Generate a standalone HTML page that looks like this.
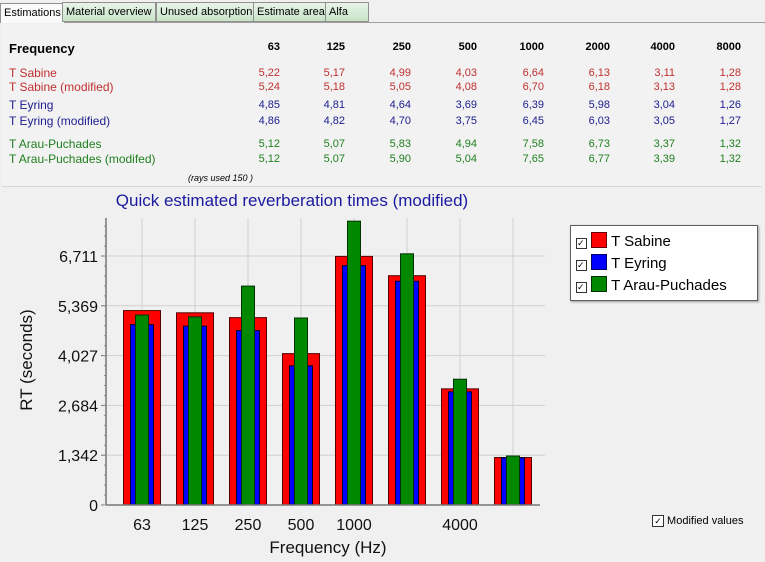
<!DOCTYPE html>
<html><head><meta charset="utf-8"><style>
body{margin:0;width:765px;height:562px;background:#f0f0f0;font-family:"Liberation Sans",sans-serif;position:relative;overflow:hidden}
.tabs{position:absolute;left:0;top:0;width:765px;height:22px;background:#f0f0f0;border-bottom:1px solid #a0a0a0}
.tab{position:absolute;top:2px;height:18px;font-size:11px;line-height:18px;padding:0 3px;border:1px solid #909090;background:linear-gradient(#e8f4e8,#c8e4c8)}
.panel{position:absolute;left:2px;top:24px;width:760px;height:162px;background:#f2f2f2;border-bottom:1px solid #d8d8d8}
.t{position:absolute;font-size:12px;white-space:nowrap}
.n{position:absolute;font-size:12px;text-align:right;width:40px}
</style></head><body>
<div class="tabs">
<div class="tab" style="left:0;top:3px;height:19px;background:#fafafa;border-bottom:none">Estimations</div>
<div class="tab" style="left:62px">Material overview</div>
<div class="tab" style="left:156px">Unused absorption</div>
<div class="tab" style="left:253px">Estimate area</div>
<div class="tab" style="left:325px;width:36px">Alfa</div>
</div>
<div class="panel"></div>
<div id="tbl"></div>
<svg id="chart" width="765" height="562" style="position:absolute;left:0;top:0"></svg>
<div style="position:absolute;left:570px;top:225px;width:186px;height:74px;background:#fff;border:1px solid #606060;box-shadow:1px 1px 2px #999">
<div style="position:absolute;left:5px;top:5px;font-size:15px;line-height:22px"><span style="display:inline-block;width:9px;height:9px;border:1px solid #333;font-size:9px;line-height:9px">✓</span> <span style="display:inline-block;width:14px;height:14px;background:#f00;border:1px solid #600;vertical-align:-2px"></span> T Sabine</div>
<div style="position:absolute;left:5px;top:27px;font-size:15px;line-height:22px"><span style="display:inline-block;width:9px;height:9px;border:1px solid #333;font-size:9px;line-height:9px">✓</span> <span style="display:inline-block;width:14px;height:14px;background:#00f;border:1px solid #006;vertical-align:-2px"></span> T Eyring</div>
<div style="position:absolute;left:5px;top:49px;font-size:15px;line-height:22px"><span style="display:inline-block;width:9px;height:9px;border:1px solid #333;font-size:9px;line-height:9px">✓</span> <span style="display:inline-block;width:14px;height:14px;background:#080;border:1px solid #030;vertical-align:-2px"></span> T Arau-Puchades</div>
</div>
<div style="position:absolute;left:652px;top:515px;font-size:11px"><span style="display:inline-block;width:10px;height:10px;border:1px solid #333;background:#fff;font-size:9px;line-height:10px;text-align:center">✓</span> Modified values</div>
<script>
const freqs=["63","125","250","500","1000","2000","4000","8000"];
const xLabels=["63","125","250","500","1000","","4000",""];
const sabine=[5.22,5.17,4.99,4.03,6.64,6.13,3.11,1.28];
const sabineMod=[5.24,5.18,5.05,4.08,6.70,6.18,3.13,1.28];
const eyring=[4.85,4.81,4.64,3.69,6.39,5.98,3.04,1.26];
const eyringMod=[4.86,4.82,4.70,3.75,6.45,6.03,3.05,1.27];
const arau=[5.12,5.07,5.83,4.94,7.58,6.73,3.37,1.32];
const arauMod=[5.12,5.07,5.90,5.04,7.65,6.77,3.39,1.32];
const yTicks=[0,1.342,2.684,4.027,5.369,6.711];
const yTickLabels=["0","1,342","2,684","4,027","5,369","6,711"];
const fmt=v=>v.toFixed(2).replace('.',',');
// table
const tbl=document.getElementById('tbl');
function add(cls,txt,x,y,st,name){const d=document.createElement('div');d.className=cls;d.textContent=txt;d.style.left=x+'px';d.style.top=y+'px';if(st)d.style.cssText+=st;


tbl.appendChild(d);}
add('t','Frequency',9,41,'font-weight:bold;font-size:13px','frequency-header');
const rows=[["T Sabine",sabine,"#c03030",66],["T Sabine (modified)",sabineMod,"#c03030",80],["T Eyring",eyring,"#202090",98],["T Eyring (modified)",eyringMod,"#202090",114],["T Arau-Puchades",arau,"#208020",137],["T Arau-Puchades (modifed)",arauMod,"#208020",152]];
const colR=[280,345,411,477,544,610,675,741];
freqs.forEach((f,i)=>add('n',f,colR[i]-40,41,'font-weight:bold;font-size:11px','freq-col-'+f));
rows.forEach((r,ri)=>{add('t',r[0],9,r[3],'color:'+r[2],'row-label-'+ri);
r[1].forEach((v,i)=>add('n',fmt(v),colR[i]-40,r[3]+1,'color:'+r[2]+';font-size:11px','cell-'+ri+'-'+i));});
add('t','(rays used     150     )',188,173,'font-style:italic;font-size:9px','rays-used');
// chart
const svg=document.getElementById('chart');const NS='http://www.w3.org/2000/svg';
function el(t,a,name,txt){const e=document.createElementNS(NS,t);for(const k in a)e.setAttribute(k,a[k]);if(txt!==undefined)e.textContent=txt;


svg.appendChild(e);return e;}
const y0=505,yTop=218,xAxis=106,xRight=545,pxPer=(505-256)/6.711;
const Y=v=>y0-v*pxPer;
const X=i=>142+i*53;
el('text',{x:292,y:206,'font-size':17,fill:'#1a1aa0','text-anchor':'middle','font-family':'Liberation Sans'},'chart-title','Quick estimated reverberation times (modified)');
yTicks.forEach((t,i)=>{if(i>0)el('line',{x1:xAxis,x2:xRight,y1:Y(t),y2:Y(t),stroke:'#d0d0d0'},'h-grid');
el('text',{x:98,y:Y(t)+6,'font-size':16,'text-anchor':'end','font-family':'Liberation Sans',fill:'#111'},'y-tick-label',yTickLabels[i]);
el('line',{x1:xAxis-5,x2:xAxis,y1:Y(t),y2:Y(t),stroke:'#777'},'y-tick');});
for(let v=0;v<7.7;v+=0.2684)el('line',{x1:xAxis-2,x2:xAxis,y1:Y(v),y2:Y(v),stroke:'#999'},'y-minor-tick');
freqs.forEach((f,i)=>el('line',{x1:X(i),x2:X(i),y1:yTop,y2:y0,stroke:'#d0d0d0'},'v-grid'));
freqs.forEach((f,i)=>{const c=X(i);
el('rect',{x:c-18.5,y:Y(sabineMod[i]),width:37,height:y0-Y(sabineMod[i]),fill:'#f00',stroke:'#500'},'bar-sabine-'+f);
el('rect',{x:c-11.5,y:Y(eyringMod[i]),width:23,height:y0-Y(eyringMod[i]),fill:'#00f',stroke:'#003'},'bar-eyring-'+f);
el('rect',{x:c-6.5,y:Y(arauMod[i]),width:13,height:y0-Y(arauMod[i]),fill:'#080',stroke:'#030'},'bar-arau-'+f);
if(xLabels[i])el('text',{x:c,y:530,'font-size':16,'text-anchor':'middle','font-family':'Liberation Sans',fill:'#111'},'x-tick-label',xLabels[i]);});
el('line',{x1:xAxis,x2:xAxis,y1:yTop,y2:y0,stroke:'#777','stroke-width':1.5},'y-axis');
el('line',{x1:xAxis,x2:xRight-5,y1:y0,y2:y0,stroke:'#777','stroke-width':1.5},'x-axis');
el('text',{x:328,y:553,'font-size':17,'text-anchor':'middle','font-family':'Liberation Sans',fill:'#111'},'x-axis-title','Frequency (Hz)');
el('text',{x:32,y:360,'font-size':17,'text-anchor':'middle','font-family':'Liberation Sans',fill:'#111',transform:'rotate(-90 32 360)'},'y-axis-title','RT (seconds)');
</script>
</body></html>
